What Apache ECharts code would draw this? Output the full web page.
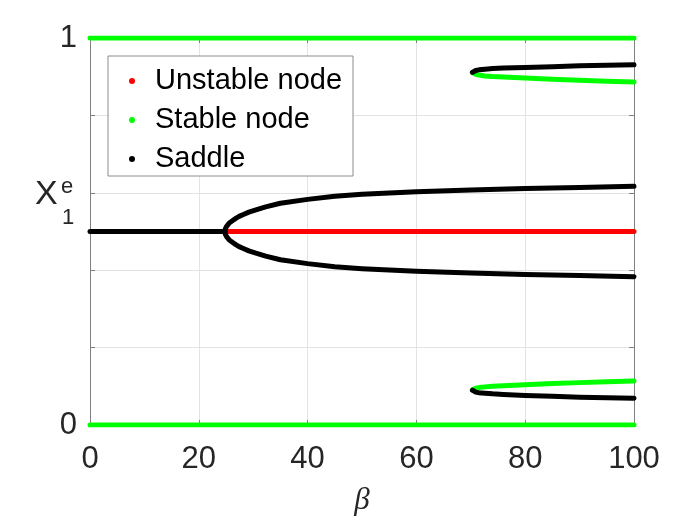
<!DOCTYPE html>
<html>
<head>
<meta charset="utf-8">
<script src="https://cdn.jsdelivr.net/npm/echarts@6/dist/echarts.min.js"></script>
<style>
  html, body { margin: 0; padding: 0; background: #fff; }
  #chartDiv { width: 700px; height: 525px; }
</style>
</head>
<body>
<div id="chartDiv"></div>
<script>
// 横轴刻度与纵轴刻度标签
const xTickLabels = ['0', '20', '40', '60', '80', '100']
const yTickLabels = ['0', '', '', '', '', '1']

// 稳定的平凡解 (0 和 1)
const betaFull = [0, 100]
const stableOne = [1, 1]
const stableZero = [0, 0]

// 分岔前的鞍点 / 分岔后的不稳定节点 (0.5)
const betaBefore = [0, 24.8]
const saddleMid = [0.5, 0.5]
const betaAfter = [24.8, 100]
const unstableMid = [0.5, 0.5]

// 叉式分岔的两支
const betaPitch = [24.8, 24.82, 24.85, 24.9, 25.0, 25.15, 25.35, 25.6, 25.9, 26.3, 26.8, 27.4, 28.2, 29.2, 30.5, 32.3, 35, 40, 45, 50, 60, 70, 80, 90, 100]
const saddleUpper = [0.5, 0.503, 0.505, 0.508, 0.511, 0.514, 0.518, 0.522, 0.525, 0.529, 0.534, 0.539, 0.544, 0.550, 0.556, 0.5635, 0.573, 0.583, 0.591, 0.596, 0.603, 0.607, 0.611, 0.614, 0.617]
const saddleLower = [0.5, 0.497, 0.495, 0.492, 0.489, 0.486, 0.482, 0.478, 0.475, 0.471, 0.466, 0.461, 0.456, 0.450, 0.444, 0.4365, 0.427, 0.417, 0.409, 0.404, 0.397, 0.393, 0.389, 0.386, 0.383]

// 鞍结分岔 (beta ≈ 70)
const betaFold = [70.3, 70.35, 70.45, 70.6, 70.9, 71.5, 72.6, 74, 76, 80, 85, 90, 95, 100]
const saddleTop = [0.911, 0.9125, 0.9136, 0.9146, 0.916, 0.9177, 0.9195, 0.921, 0.9222, 0.924, 0.926, 0.928, 0.9295, 0.931]
const stableTop = [0.911, 0.9095, 0.9084, 0.9074, 0.906, 0.9043, 0.902, 0.9005, 0.899, 0.8965, 0.8935, 0.891, 0.8885, 0.886]
const stableBottom = [0.09, 0.0915, 0.0926, 0.0936, 0.095, 0.0967, 0.0985, 0.100, 0.1015, 0.104, 0.107, 0.1095, 0.112, 0.114]
const saddleBottom = [0.09, 0.0885, 0.0874, 0.0864, 0.085, 0.0835, 0.082, 0.0805, 0.079, 0.0765, 0.074, 0.072, 0.0705, 0.069]

const RED = '#ff0000'
const GREEN = '#00ff00'
const BLACK = '#000000'
const AXIS = '#808080'
const FONT = '"Liberation Sans", Arial, sans-serif'

const zip = (xs, ys) => xs.map((x, i) => [x, ys[i]])

const makeLine = (name, color, xs, ys) => ({
  name: name,
  type: 'line',
  showSymbol: false,
  symbol: 'circle',
  color: color,
  lineStyle: { color: color, width: 5, cap: 'round', join: 'round' },
  emphasis: { disabled: true },
  animation: false,
  data: zip(xs, ys)
})

const xAxisCommon = {
  type: 'value',
  min: 0,
  max: 100,
  interval: 20,
  axisLine: { show: true, onZero: false, lineStyle: { color: AXIS, width: 1 } },
  axisTick: { show: true, inside: true, length: 5, lineStyle: { color: AXIS } },
}

const yAxisCommon = {
  type: 'value',
  min: 0,
  max: 1,
  interval: 0.2,
  axisLine: { show: true, onZero: false, lineStyle: { color: AXIS, width: 1 } },
  axisTick: { show: true, inside: true, length: 5, lineStyle: { color: AXIS } },
}

const option = {
  backgroundColor: '#fff',
  animation: false,
  grid: { left: 90, right: 66, top: 38, bottom: 100, containLabel: false },
  legend: {
    orient: 'vertical',
    left: 108,
    top: 56,
    padding: [10, 11, 2, 21],
    itemWidth: 6,
    itemHeight: 6,
    itemGap: 9,
    icon: 'circle',
    backgroundColor: '#fff',
    borderColor: '#8c8c8c',
    borderWidth: 1,
    borderRadius: 0,
    selectedMode: false,
    textStyle: { fontFamily: FONT, fontSize: 29, color: '#000', lineHeight: 30, padding: [0, 0, 0, 15] },
    data: ['Unstable node', 'Stable node', 'Saddle']
  },
  xAxis: [
    Object.assign({}, xAxisCommon, {
      position: 'bottom',
      name: 'β',
      nameLocation: 'middle',
      nameGap: 60,
      nameTextStyle: { fontFamily: '"Liberation Serif", "DejaVu Serif", serif', fontStyle: 'italic', fontSize: 31, color: '#262626' },
      splitLine: { show: true, lineStyle: { color: '#e3e3e3', width: 1 } },
      axisLabel: {
        fontFamily: FONT, fontSize: 31, color: '#262626', margin: 19,
        formatter: (v, i) => xTickLabels[i]
      }
    }),
    Object.assign({}, xAxisCommon, {
      position: 'top',
      splitLine: { show: false },
      axisLabel: { show: false }
    })
  ],
  yAxis: [
    Object.assign({}, yAxisCommon, {
      position: 'left',
      splitLine: { show: true, lineStyle: { color: '#e3e3e3', width: 1 } },
      axisLabel: {
        fontFamily: FONT, fontSize: 31, color: '#262626', margin: 13,
        formatter: (v, i) => yTickLabels[i]
      }
    }),
    Object.assign({}, yAxisCommon, {
      position: 'right',
      splitLine: { show: false },
      axisLabel: { show: false }
    })
  ],
  // 纵轴标题 X_1^e
  graphic: [
    { type: 'text', left: 35, top: 178, style: { text: 'X', font: '34px ' + FONT, fill: '#262626' } },
    { type: 'text', left: 61, top: 176, style: { text: 'e', font: '22px ' + FONT, fill: '#262626' } },
    { type: 'text', left: 62, top: 207, style: { text: '1', font: '22px ' + FONT, fill: '#262626' } }
  ],
  series: [
    makeLine('Stable node', GREEN, betaFull, stableOne),
    makeLine('Stable node', GREEN, betaFull, stableZero),
    makeLine('Stable node', GREEN, betaFold, stableTop),
    makeLine('Stable node', GREEN, betaFold, stableBottom),
    makeLine('Unstable node', RED, betaAfter, unstableMid),
    makeLine('Saddle', BLACK, betaBefore, saddleMid),
    makeLine('Saddle', BLACK, betaPitch, saddleUpper),
    makeLine('Saddle', BLACK, betaPitch, saddleLower),
    makeLine('Saddle', BLACK, betaFold, saddleTop),
    makeLine('Saddle', BLACK, betaFold, saddleBottom)
  ]
}

const chartDiv = document.getElementById('chartDiv')
const chart = echarts.init(chartDiv, null, { renderer: 'canvas' })
chart.setOption(option)
</script>
</body>
</html>
